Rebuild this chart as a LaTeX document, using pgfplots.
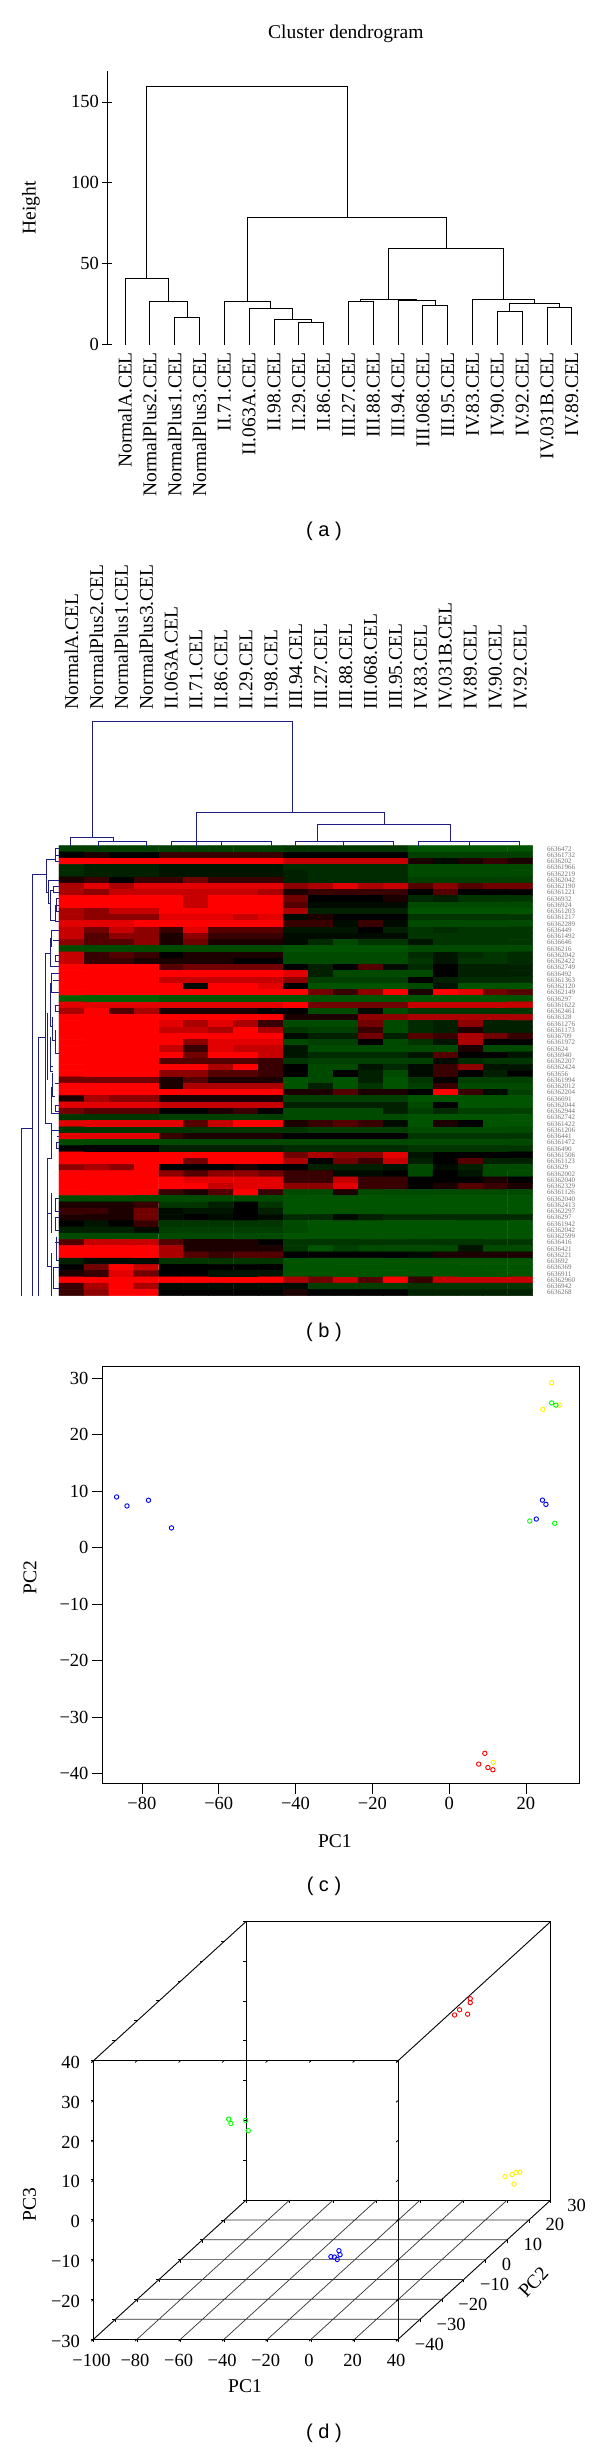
\documentclass[border=0pt]{standalone}
\usepackage{fontspec}
\setmainfont{Liberation Serif}
\newfontfamily\capfont{Liberation Sans}
\usepackage{pgfplots}
\pgfplotsset{compat=1.18}
\newcommand\ff{\fontsize{19.5}{22}\selectfont}
\newcommand\tf{\fontsize{18.5}{22}\selectfont}
\newcommand\cf{\capfont\fontsize{20}{22}\selectfont}
\definecolor{dnavy}{RGB}{30,30,130}
\pgfplotsset{
  every axis/.append style={
    scale only axis,
    tick label style={font=\tf},
    label style={font=\ff},
    title style={font=\ff},
    tick style={black,line width=0.8pt},
    axis line style={black,line width=0.9pt},
    tick align=outside,
    major tick length=10pt,
    minor tick num=0,
    scaled ticks=false,
  },
  pt/.style={only marks,mark=o,mark size=2.2pt,mark options={line width=0.9pt,draw=#1,fill=none},draw=#1},
}
\begin{document}
\begin{tikzpicture}
\path[use as bounding box] (0pt,0pt) rectangle (600pt,-2447pt);

%% ---------- panel a
\begin{axis}[
  at={(107.3pt,-344.6pt)},anchor=south west,
  width=477pt,height=273.9pt,
  xmin=0.287,xmax=19.5,ymin=0,ymax=169.3,
  axis x line=bottom,axis y line=left,
  axis line style={-},
  x axis line style={draw=none},
  x tick style={draw=none},
  ytick={0,50,100,150},
  yticklabels={0,50,100,150},
  xtick={1,...,19},
  xticklabels={NormalA.CEL,NormalPlus2.CEL,NormalPlus1.CEL,NormalPlus3.CEL,II.71.CEL,II.063A.CEL,II.98.CEL,II.29.CEL,II.86.CEL,III.27.CEL,III.88.CEL,III.94.CEL,III.068.CEL,III.95.CEL,IV.83.CEL,IV.90.CEL,IV.92.CEL,IV.031B.CEL,IV.89.CEL},
  xticklabel style={rotate=90,anchor=east,font=\ff},
  xticklabel shift=-1pt,
  ylabel={Height},
  ylabel style={at={(axis description cs:-0.16,0.5)},anchor=center,rotate=0},
  title={Cluster dendrogram},
  title style={at={(axis description cs:0.5,1.146)},anchor=center,yshift=-8.7pt},
  unbounded coords=jump,clip=false,
]
\addplot[black,line width=0.9pt] table {
3 0
3 16.9
4 16.9
4 0
nan nan
2 0
2 26.9
3.5 26.9
3.5 16.9
nan nan
1 0
1 40.6
2.75 40.6
2.75 26.9
nan nan
8 0
8 13.5
9 13.5
9 0
nan nan
7 0
7 15.3
8.5 15.3
8.5 13.5
nan nan
6 0
6 22.4
7.75 22.4
7.75 15.3
nan nan
5 0
5 26.4
6.875 26.4
6.875 22.4
nan nan
10 0
10 26.6
11 26.6
11 0
nan nan
13 0
13 24.4
14 24.4
14 0
nan nan
12 0
12 27.5
13.5 27.5
13.5 24.4
nan nan
10.5 26.6
10.5 27.7
12.75 27.7
12.75 27.5
nan nan
16 0
16 20.6
17 20.6
17 0
nan nan
18 0
18 23
19 23
19 0
nan nan
16.5 20.6
16.5 25.7
18.5 25.7
18.5 23
nan nan
15 0
15 28
17.5 28
17.5 25.7
nan nan
11.625 27.7
11.625 59.2
16.25 59.2
16.25 28
nan nan
5.94 26.4
5.94 78.3
13.94 78.3
13.94 59.2
nan nan
1.875 40.6
1.875 159.8
9.94 159.8
9.94 78.3
};
\end{axis}
\node[font=\cf] at (324pt,-531pt) {( a )};

%% ---------- panel b
\begin{axis}[
  at={(59pt,-1295.67pt)},anchor=south west,
  width=473.67pt,height=450pt,
  xmin=177,xmax=1598,ymin=-1367,ymax=-17,
  axis line style={draw=none},
  tick style={draw=none},
  clip=false,
  colormap={rg}{rgb255(0cm)=(0,95,0); rgb255(1cm)=(0,0,0); rgb255(2cm)=(255,0,0)},
  point meta min=-9,point meta max=9,
  xtick={214.4,289.2,364.0,438.8,513.6,588.3,663.1,737.9,812.7,887.5,962.3,1037.1,1111.9,1186.7,1261.4,1336.2,1411,1485.8,1560.6},
  xtick pos=upper,xticklabel pos=upper,
  xticklabels={NormalA.CEL,NormalPlus2.CEL,NormalPlus1.CEL,NormalPlus3.CEL,II.063A.CEL,II.71.CEL,II.86.CEL,II.29.CEL,II.98.CEL,III.94.CEL,III.27.CEL,III.88.CEL,III.068.CEL,III.95.CEL,IV.83.CEL,IV.031B.CEL,IV.89.CEL,IV.90.CEL,IV.92.CEL},
  xticklabel shift=126pt,
  xticklabel style={rotate=90,anchor=west,xshift=-3pt,font=\ff},
  ytick={-26.4,-45.15,...,-1358},
  ytick pos=right,yticklabel pos=upper,
  yticklabel shift=1pt,
  yticklabels={6636472,66361732,6636202,66361966,66362219,66362042,66362190,66361221,6636932,6636924,66361203,66361217,66362289,6636449,66361492,6636646,6636216,66362042,66362422,66362749,6636492,66361363,66362120,66362149,6636297,66361622,66362461,6636328,66361276,66361173,6636709,66361972,663624,6636940,66362207,66362424,663656,66361994,66362012,66362204,6636691,66362044,66362944,66362742,66361422,66361206,6636441,66361472,6636490,66361506,66361123,663629,66362002,66362040,66362329,66361126,66362040,66362413,66362297,6636297,66361942,66362042,66362599,6636416,6636421,6636221,663692,6636369,6636911,66362960,6636942,6636268},
  yticklabel style={font=\fontsize{7}{7}\selectfont,text=black!55,anchor=west},
  unbounded coords=jump,
]
\addplot[matrix plot*,mesh/cols=19,point meta=\thisrowno{0},draw=none] table[row sep=\\,header=false,
  x expr={177+74.79*mod(\coordindex+0.5,19)},
  y expr={-(17+18.75*(floor((\coordindex+0.5)/19)+0.5))}] {
-6\\-6\\-6\\-6\\-6\\-6\\-6\\-6\\-6\\-5\\-5\\-5\\-5\\-5\\-8\\-8\\-8\\-8\\-8\\
0\\1\\0\\0\\2\\2\\2\\2\\2\\0\\0\\0\\0\\0\\-6\\-6\\-6\\-6\\-6\\
9\\9\\9\\9\\9\\9\\9\\9\\9\\7\\7\\7\\7\\7\\1\\-1\\1\\2\\1\\
-4\\-3\\-3\\-3\\-2\\-2\\-2\\-2\\-2\\-4\\-4\\-4\\-4\\-4\\-7\\-7\\-7\\-7\\-7\\
-4\\-3\\-3\\-3\\-2\\-2\\-2\\-2\\-2\\-3\\-4\\-4\\-4\\-4\\-7\\-7\\-7\\-7\\-7\\
1\\2\\0\\2\\2\\4\\2\\2\\2\\-3\\-4\\-4\\-4\\-4\\-6\\-6\\-6\\-6\\-6\\
6\\8\\6\\8\\8\\8\\8\\8\\8\\5\\6\\8\\6\\7\\3\\5\\3\\4\\4\\
6\\5\\7\\7\\7\\7\\7\\7\\6\\1\\2\\2\\2\\2\\0\\3\\0\\0\\0\\
9\\9\\9\\9\\9\\7\\9\\9\\9\\4\\0\\0\\0\\1\\-4\\-3\\-5\\-5\\-5\\
9\\9\\9\\9\\9\\7\\9\\9\\9\\3\\-1\\-1\\-1\\-1\\-7\\-7\\-7\\-7\\-7\\
6\\5\\7\\7\\9\\9\\9\\9\\9\\6\\-3\\-3\\-3\\-3\\-8\\-8\\-8\\-8\\-8\\
6\\5\\5\\5\\8\\8\\8\\7\\8\\-1\\1\\0\\0\\0\\-5\\-5\\-5\\-5\\-5\\
8\\8\\8\\9\\9\\9\\9\\9\\9\\2\\2\\-1\\2\\-1\\-7\\-7\\-7\\-7\\-7\\
7\\4\\7\\5\\2\\8\\3\\3\\3\\-2\\-2\\-2\\0\\-3\\-5\\-4\\-5\\-5\\-5\\
7\\3\\5\\5\\1\\5\\2\\2\\2\\-1\\-1\\-1\\-1\\-1\\-5\\-5\\-5\\-5\\-5\\
5\\3\\3\\5\\1\\4\\1\\1\\1\\-1\\-4\\-7\\-5\\-5\\-2\\-5\\-5\\-5\\-5\\
-7\\-7\\-7\\-7\\-7\\-7\\-7\\-7\\-7\\-8\\-8\\-8\\-8\\-8\\-7\\-7\\-7\\-7\\-7\\
7\\2\\3\\2\\0\\1\\1\\1\\1\\-7\\-7\\-7\\-7\\-7\\-4\\-2\\-4\\-5\\-4\\
7\\2\\2\\1\\1\\1\\1\\0\\0\\-7\\-7\\-7\\-7\\-7\\-5\\-2\\-5\\-5\\-4\\
9\\9\\9\\9\\3\\4\\4\\4\\4\\0\\-3\\0\\3\\-1\\-4\\0\\-3\\-3\\-3\\
9\\9\\9\\9\\9\\9\\9\\9\\9\\8\\-3\\-7\\-7\\-7\\-7\\0\\-3\\-3\\-3\\
9\\9\\9\\9\\7\\7\\7\\7\\7\\5\\-6\\-6\\-6\\-6\\0\\-3\\-4\\-4\\-4\\
9\\9\\9\\9\\9\\-1\\9\\9\\8\\0\\-8\\-8\\-8\\-8\\-7\\-2\\-8\\-8\\-8\\
9\\9\\9\\9\\9\\9\\9\\9\\9\\9\\4\\2\\5\\9\\1\\9\\8\\4\\3\\
-9\\-9\\-9\\-9\\-8\\-8\\-8\\-8\\-8\\-8\\-8\\-8\\-8\\-8\\-8\\-8\\-8\\-8\\-8\\
8\\8\\8\\8\\8\\8\\8\\8\\8\\9\\4\\4\\4\\4\\7\\7\\7\\7\\7\\
6\\9\\3\\6\\1\\1\\1\\1\\0\\0\\-7\\-7\\-1\\-7\\-5\\-5\\-5\\-5\\-5\\
9\\9\\9\\9\\9\\9\\9\\9\\9\\1\\1\\1\\5\\5\\6\\6\\6\\6\\6\\
9\\9\\9\\9\\8\\6\\8\\6\\2\\-7\\-7\\-7\\4\\-7\\-4\\-3\\5\\-3\\-3\\
9\\9\\9\\9\\7\\7\\6\\9\\6\\-5\\-6\\-6\\2\\-7\\-4\\-3\\1\\-3\\-3\\
9\\9\\9\\9\\9\\9\\9\\9\\9\\-1\\-3\\-3\\4\\-3\\3\\2\\6\\4\\2\\
9\\9\\9\\9\\9\\5\\8\\8\\8\\-7\\-6\\-6\\0\\-7\\-5\\-2\\6\\0\\0\\
9\\9\\9\\9\\7\\2\\8\\7\\7\\-2\\-7\\-7\\-7\\-7\\-7\\-7\\1\\-7\\-7\\
9\\9\\9\\9\\9\\4\\9\\9\\7\\-2\\-4\\-4\\-4\\-4\\-2\\3\\0\\0\\-2\\
9\\9\\9\\9\\3\\3\\3\\3\\2\\-5\\-6\\-6\\-6\\-6\\-6\\-1\\-4\\-5\\-5\\
9\\9\\9\\9\\9\\9\\6\\9\\2\\0\\-7\\-7\\-2\\-4\\-1\\2\\5\\-2\\-2\\
9\\9\\9\\9\\5\\5\\3\\3\\2\\0\\-7\\0\\-3\\-7\\-1\\2\\0\\-3\\0\\
4\\4\\4\\4\\1\\3\\1\\1\\1\\-8\\-7\\-8\\-3\\-8\\-5\\0\\-6\\-6\\-6\\
9\\9\\9\\9\\1\\6\\6\\6\\6\\-8\\-3\\-8\\-5\\-8\\-6\\2\\-7\\-7\\-7\\
9\\9\\9\\9\\9\\9\\9\\9\\9\\1\\1\\3\\1\\1\\0\\9\\2\\-1\\-6\\
1\\6\\5\\5\\1\\1\\1\\1\\1\\-6\\-6\\-6\\-6\\-6\\-8\\-8\\-8\\-8\\-8\\
8\\8\\8\\8\\7\\7\\7\\7\\7\\-3\\-3\\-3\\-3\\-3\\-7\\0\\-8\\-8\\-8\\
4\\3\\3\\3\\0\\0\\1\\2\\0\\-7\\-7\\-7\\-7\\-3\\-6\\-4\\-6\\-6\\-6\\
-5\\-5\\-5\\-5\\-6\\-6\\-6\\-6\\-6\\-7\\-7\\-7\\-7\\-7\\-8\\-8\\-8\\-8\\-8\\
8\\8\\8\\8\\8\\3\\7\\9\\9\\1\\2\\3\\2\\-1\\-8\\1\\0\\-8\\-8\\
-5\\-5\\-5\\-5\\-5\\-5\\-5\\-5\\-5\\-5\\-6\\-6\\-6\\-6\\-7\\-7\\-7\\-7\\-7\\
8\\8\\8\\8\\2\\1\\1\\1\\1\\0\\0\\0\\0\\0\\-5\\-5\\-5\\-5\\-5\\
-7\\-7\\-7\\-7\\-7\\-7\\-7\\-7\\-7\\-7\\-7\\-7\\-7\\-7\\-7\\-7\\-7\\-7\\-7\\
0\\0\\0\\0\\-3\\-3\\-3\\-3\\-3\\-4\\-4\\-4\\-4\\-4\\-5\\-5\\-5\\-5\\-5\\
9\\9\\9\\9\\9\\9\\9\\9\\9\\4\\6\\5\\5\\8\\-2\\0\\0\\0\\0\\
9\\9\\9\\9\\9\\4\\9\\9\\9\\6\\0\\4\\2\\7\\-3\\0\\3\\-3\\-3\\
5\\6\\5\\9\\0\\0\\0\\1\\0\\0\\-3\\-3\\-3\\-2\\-7\\-1\\-3\\-7\\-7\\
9\\9\\9\\9\\5\\3\\5\\5\\4\\2\\2\\-1\\-1\\0\\-7\\0\\-2\\-7\\-7\\
9\\9\\9\\9\\9\\8\\8\\8\\8\\2\\2\\7\\2\\2\\0\\0\\0\\1\\0\\
9\\9\\9\\9\\9\\9\\7\\8\\8\\5\\5\\8\\2\\2\\0\\1\\3\\2\\1\\
9\\9\\9\\9\\2\\1\\3\\9\\2\\-7\\-7\\1\\-7\\-7\\-7\\-7\\-7\\-7\\-7\\
-7\\-7\\-7\\-7\\-7\\-7\\-7\\-7\\-7\\-8\\-8\\-8\\-8\\-8\\-8\\-8\\-8\\-8\\-8\\
1\\1\\1\\2\\-5\\-5\\-3\\0\\-5\\-8\\-8\\-8\\-8\\-8\\-8\\-8\\-8\\-8\\-8\\
2\\2\\1\\4\\-1\\-2\\-2\\0\\-3\\-8\\-8\\-8\\-8\\-8\\-8\\-8\\-8\\-8\\-8\\
1\\1\\1\\4\\-1\\0\\-1\\0\\-1\\-4\\-4\\-1\\-3\\-4\\-4\\-4\\-4\\-4\\-4\\
0\\-2\\0\\2\\-5\\-5\\-5\\-5\\-5\\-7\\-8\\-8\\-8\\-8\\-8\\-8\\-8\\-8\\-8\\
-3\\-3\\-3\\-1\\-6\\-6\\-6\\-6\\-6\\-7\\-8\\-8\\-8\\-8\\-8\\-8\\-8\\-8\\-8\\
-7\\-7\\-7\\-7\\-7\\-7\\-7\\-7\\-7\\-8\\-8\\-8\\-8\\-8\\-8\\-8\\-8\\-8\\-8\\
3\\7\\7\\7\\3\\1\\1\\1\\0\\-5\\-5\\-5\\-5\\-5\\-5\\-5\\-5\\-5\\-5\\
9\\9\\9\\9\\6\\1\\1\\1\\1\\-5\\-8\\-6\\-7\\-7\\-7\\-7\\-2\\-7\\-7\\
9\\9\\9\\9\\6\\3\\2\\3\\3\\0\\0\\0\\0\\0\\-1\\1\\1\\1\\1\\
-3\\-1\\-1\\-1\\-5\\-5\\-5\\-5\\-5\\-8\\-8\\-8\\-8\\-8\\-8\\-8\\-8\\-8\\-8\\
0\\4\\9\\7\\0\\0\\0\\0\\0\\-8\\-8\\-8\\-8\\-8\\-8\\-8\\-8\\-8\\-8\\
1\\2\\8\\4\\0\\0\\-2\\-2\\-2\\-8\\-8\\-8\\-8\\-8\\-8\\-8\\-8\\-8\\-8\\
9\\9\\9\\9\\9\\9\\9\\9\\9\\6\\4\\7\\3\\9\\2\\7\\7\\7\\7\\
2\\6\\9\\6\\-1\\-1\\-1\\-1\\-1\\-1\\-6\\-6\\-6\\-6\\-5\\-5\\-5\\-5\\-5\\
2\\5\\9\\9\\0\\0\\0\\0\\0\\1\\0\\0\\0\\0\\-3\\-3\\-3\\-3\\-3\\
};
% top dendrogram
\addplot[dnavy,line width=0.9pt] table {
212 -17
212 8
341 8
341 -5
nan nan
295 -17
295 -5
440 -5
440 -17
nan nan
277 8
277 357
878 357
878 82
nan nan
590 -17
590 82
1153 82
1153 47
nan nan
513 -17
513 -3
685 -3
685 -5
nan nan
665 -17
665 -5
815 -5
815 -17
nan nan
953 -3
953 47
1352 47
1352 -3
nan nan
887 -17
887 -3
1050 -3
1050 -5
nan nan
1030 -17
1030 -5
1180 -5
1180 -17
nan nan
1256 -17
1256 -3
1428 -3
1428 -5
nan nan
1408 -17
1408 -5
1558 -5
1558 -17
};
% left dendrogram
\addplot[dnavy,line width=0.8pt] table {
65 -1367
65 -865
98 -865
nan nan
140 -102
98 -102
98 -1367
nan nan
137 -592
114 -592
114 -1367
nan nan
150 -340
137 -340
137 -850
155 -850
nan nan
165 -58
140 -58
140 -158
145 -158
nan nan
177 -26
165 -26
165 -64
177 -64
nan nan
165 -45
177 -45
nan nan
145 -120
145 -190
152 -190
nan nan
145 -120
177 -120
nan nan
152 -150
152 -240
165 -240
nan nan
152 -150
160 -150
nan nan
177 -139
160 -139
160 -158
177 -158
nan nan
177 -195
165 -195
165 -245
177 -245
nan nan
177 -176
170 -176
170 -214
177 -214
nan nan
150 -295
150 -380
177 -380
nan nan
177 -270
155 -270
155 -320
150 -320
nan nan
160 -300
177 -300
nan nan
177 -345
165 -345
165 -364
177 -364
nan nan
177 -401
155 -401
155 -458
177 -458
nan nan
160 -420
177 -420
nan nan
150 -430
150 -560
158 -560
nan nan
158 -530
158 -600
165 -600
nan nan
165 -570
165 -640
177 -640
nan nan
177 -495
165 -495
165 -514
177 -514
nan nan
142 -520
142 -720
nan nan
150 -600
150 -695
158 -695
nan nan
152 -590
152 -680
160 -680
nan nan
158 -700
158 -770
165 -770
nan nan
165 -730
177 -730
nan nan
155 -740
155 -820
177 -820
nan nan
177 -795
165 -795
165 -814
177 -814
nan nan
155 -850
155 -955
143 -955
143 -1280
155 -1280
nan nan
155 -870
177 -870
nan nan
170 -889
177 -889
nan nan
177 -908
170 -908
170 -926
177 -926
nan nan
143 -1120
155 -1120
nan nan
155 -1060
155 -1180
nan nan
177 -1076
165 -1076
165 -1114
177 -1114
nan nan
177 -1133
165 -1133
165 -1170
177 -1170
nan nan
170 -1190
170 -1260
177 -1260
nan nan
165 -1208
177 -1208
nan nan
155 -1240
155 -1367
nan nan
177 -1283
160 -1283
160 -1345
177 -1345
};
\end{axis}
\node[font=\cf] at (324pt,-1332pt) {( b )};

%% ---------- panel c
\begin{axis}[
  at={(102pt,-1783.7pt)},anchor=south west,
  width=477.3pt,height=417pt,
  xmin=-90.4,xmax=33.9,ymin=-41.77,ymax=32.0,
  xtick={-80,-60,-40,-20,0,20},
  xticklabels={−80,−60,−40,−20,0,20},
  ytick={-40,-30,-20,-10,0,10,20,30},
  yticklabels={−40,−30,−20,−10,0,10,20,30},
  xtick pos=lower,ytick pos=left,
  xlabel={PC1},ylabel={PC2},
  xlabel style={at={(axis description cs:0.488,-0.137)},anchor=center},
  ylabel style={at={(axis description cs:-0.151,0.495)},anchor=center},
]
\addplot[pt=yellow] coordinates {(26.7,29.17)(24.4,24.46)(28.7,25.2)(11.5,-38.0)};
\addplot[pt=blue] coordinates {(-86.6,8.96)(-83.9,7.37)(-78.3,8.37)(-72.3,3.48)(24.3,8.4)(25.2,7.65)(22.7,5.05)};
\addplot[pt=green] coordinates {(26.7,25.6)(27.8,25.2)(21,4.7)(27.5,4.3)};
\addplot[pt=red] coordinates {(9.3,-36.4)(7.7,-38.3)(10.1,-38.9)(11.4,-39.3)};
\end{axis}
\node[font=\cf] at (324pt,-1886.4pt) {( c )};

%% ---------- panel d
\begin{axis}[
  at={(398.4pt,-2140.2pt)},anchor=origin,
  x={(2.176pt,0pt)},y={(2.177pt,1.986pt)},z={(0pt,3.98pt)},
  xmin=-100,xmax=40,ymin=-40,ymax=30,zmin=-30,zmax=40,
  scale only axis=false,
  3d box=complete,
  clip=false,
  major tick length=3pt,
  xtick pos=lower,ytick pos=lower,ztick pos=lower,
  xtick={-100,-80,-60,-40,-20,0,20,40},
  xticklabels={−100,−80,−60,−40,−20,0,20,40},
  ytick={-40,-30,-20,-10,0,10,20,30},
  yticklabels={−40,−30,−20,−10,0,10,20,30},
  ztick={-30,-20,-10,0,10,20,30,40},
  zticklabels={−30,−20,−10,0,10,20,30,40},
  xticklabel style={anchor=center,yshift=-19pt},
  yticklabel style={anchor=west,xshift=10pt,yshift=-5pt},
  zticklabel style={anchor=east,xshift=-8pt,yshift=0pt},
  unbounded coords=jump,
]
\addplot3[black!80,line width=0.7pt] table {
-80 -40 -30
-80 30 -30
nan nan nan
-60 -40 -30
-60 30 -30
nan nan nan
-40 -40 -30
-40 30 -30
nan nan nan
-20 -40 -30
-20 30 -30
nan nan nan
0 -40 -30
0 30 -30
nan nan nan
20 -40 -30
20 30 -30
nan nan nan
-100 -30 -30
40 -30 -30
nan nan nan
-100 -20 -30
40 -20 -30
nan nan nan
-100 -10 -30
40 -10 -30
nan nan nan
-100 0 -30
40 0 -30
nan nan nan
-100 10 -30
40 10 -30
nan nan nan
-100 20 -30
40 20 -30
};
\addplot3[pt=red] coordinates {(8,25,23.1)(8,25,22.1)(3.1,25,20.3)(0.8,25,19)(6.8,25,19.2)};
\addplot3[pt=yellow] coordinates {(30.8,25,-20.5)(29,25,-20.6)(27.2,25,-21.1)(24,25,-21.6)(28.1,25,-23.5)};
\addplot3[pt=green] coordinates {(-83,5,2.8)(-82,5,1.7)(-75.2,5,2.5)(-74,5,-0.1)};
\addplot3[pt=blue] coordinates {(10.7,-38,-8.8)(11.2,-38,-9.8)(7,-38,-10.3)(8.6,-38,-10.4)(9.9,-38,-11)};
\end{axis}
\node[font=\ff] at (245pt,-2386pt) {PC1};
\node[font=\ff,rotate=90] at (29.6pt,-2204.8pt) {PC3};
\node[font=\ff,rotate=47] at (533.3pt,-2282.3pt) {PC2};
\node[font=\cf] at (324pt,-2433.6pt) {( d )};
\end{tikzpicture}
\end{document}
